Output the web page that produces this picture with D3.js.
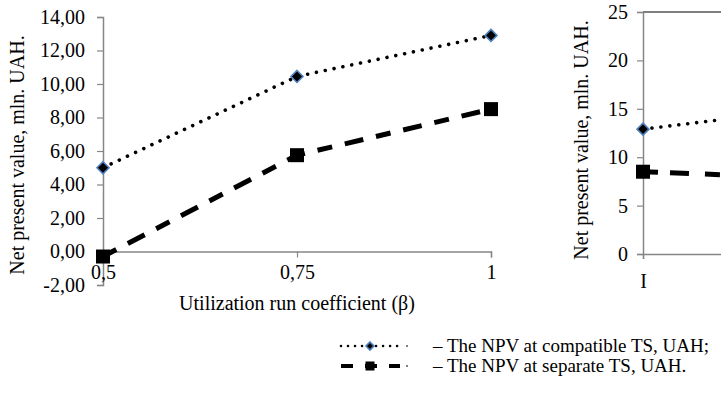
<!DOCTYPE html>
<html>
<head>
<meta charset="utf-8">
<script src="https://cdn.jsdelivr.net/npm/d3@7"></script>
<style>
  body { margin: 0; background: #fff; }
  svg { display: block; }
</style>
</head>
<body>
<div id="chart"></div>
<script>
// left chart data
const betaValues = [0.5, 0.75, 1];
const betaTicks = ["0,5", "0,75", "1"];
const npvCompatible = [5.0, 10.45, 12.9];
const npvSeparate = [-0.3, 5.75, 8.5];
const leftYTicks = [-2, 0, 2, 4, 6, 8, 10, 12, 14];

// right chart data (cut off at the right edge)
const variants = ["I", "II"];
const npvCompatibleVar = [12.9, 15.4];
const npvSeparateVar = [8.5, 7.7];
const rightYTicks = [0, 5, 10, 15, 20, 25];

const legendLabels = [
  "– The NPV at compatible TS, UAH;",
  "– The NPV at separate TS, UAH."
];

const W = 721, H = 394;
const FONT = "Liberation Serif";
const FS = 20;
const axisColor = "#868686";
const fmt = d => d.toFixed(2).replace(".", ",");

const svg = d3.select("#chart").append("svg")
  .attr("width", W).attr("height", H);

function drawDiamond(g, x, y, r) {
  g.append("path")
    .attr("d", `M${x},${y - r}L${x + r},${y}L${x},${y + r}L${x - r},${y}Z`)
    .attr("fill", "#000")
    .attr("stroke", "#4f81bd")
    .attr("stroke-width", 1.6);
}
function drawSquare(g, x, y, s) {
  g.append("rect")
    .attr("x", x - s / 2).attr("y", y - s / 2)
    .attr("width", s).attr("height", s)
    .attr("fill", "#000");
}
function styleAxis(ax) {
  ax.attr("font-family", FONT).attr("font-size", FS);
  ax.select(".domain").attr("stroke", axisColor).attr("stroke-width", 1.5);
  ax.selectAll(".tick line").attr("stroke", axisColor).attr("stroke-width", 1.2);
  ax.selectAll("text").attr("font-family", FONT).attr("font-size", FS).attr("fill", "#000");
}
function label(g, txt, x, y, rotate, anchor, size) {
  return g.append("text")
    .attr("transform", `translate(${x},${y})` + (rotate ? " rotate(-90)" : ""))
    .attr("text-anchor", anchor || "middle")
    .attr("font-family", FONT)
    .attr("font-size", size || FS)
    .attr("fill", "#000")
    .text(txt);
}

// ---------- left chart ----------
const xL = d3.scaleLinear().domain([0.5, 1]).range([103, 491]);
const yL = d3.scaleLinear().domain([-2, 14]).range([285, 17]);

const left = svg.append("g");

const yAxisL = left.append("g")
  .attr("transform", `translate(${xL(0.5)},0)`)
  .call(d3.axisLeft(yL).tickValues(leftYTicks).tickFormat(fmt).tickSizeOuter(0).tickSize(6).tickPadding(12));
styleAxis(yAxisL);

const xAxisL = left.append("g")
  .attr("transform", `translate(0,${yL(0)})`)
  .call(d3.axisBottom(xL).tickValues(betaValues).tickFormat((d, i) => betaTicks[i]).tickSizeOuter(0).tickSize(6).tickPadding(7));
styleAxis(xAxisL);
xAxisL.selectAll(".tick line").filter(d => d === 0.5).remove();

label(left, "Utilization run coefficient (β)", xL(0.75), 310);
label(left, "Net present value, mln. UAH.", 24, 155, true);

const lineL = d3.line().x(d => xL(d[0])).y(d => yL(d[1]));
left.append("path")
  .attr("d", lineL(betaValues.map((b, j) => [b, npvCompatible[j]])))
  .attr("fill", "none").attr("stroke", "#000")
  .attr("stroke-width", 3.6).attr("stroke-dasharray", "0.01 9").attr("stroke-linecap", "round");
left.append("path")
  .attr("d", lineL(betaValues.map((b, j) => [b, npvSeparate[j]])))
  .attr("fill", "none").attr("stroke", "#000")
  .attr("stroke-width", 5).attr("stroke-dasharray", "15 13 19 13").attr("stroke-linecap", "butt");
betaValues.forEach((b, j) => {
  drawDiamond(left, xL(b), yL(npvCompatible[j]), 6);
  drawSquare(left, xL(b), yL(npvSeparate[j]), 14);
});

// ---------- right chart ----------
const xR = d3.scalePoint().domain(variants).range([643, 843]);
const yR = d3.scaleLinear().domain([0, 25]).range([254, 12]);
const right = svg.append("g");

right.append("line")
  .attr("x1", xR("I")).attr("x2", W + 5)
  .attr("y1", yR(25)).attr("y2", yR(25))
  .attr("stroke", "#000").attr("stroke-width", 1.2);

const yAxisR = right.append("g")
  .attr("transform", `translate(${xR("I")},0)`)
  .call(d3.axisLeft(yR).tickValues(rightYTicks).tickSizeOuter(0).tickSize(6).tickPadding(9));
styleAxis(yAxisR);

// only the first category is inside the picture
const xAxisR = right.append("g")
  .attr("transform", `translate(0,${yR(0)})`)
  .call(d3.axisBottom(xR).tickValues(variants.slice(0, 1)).tickSizeOuter(0).tickSize(5).tickPadding(15));
styleAxis(xAxisR);

label(right, "Net present value, mln. UAH.", 588, 140, true);

const lineR = d3.line().x(d => xR(d[0])).y(d => yR(d[1]));
right.append("path")
  .attr("d", lineR(variants.map((v, j) => [v, npvCompatibleVar[j]])))
  .attr("fill", "none").attr("stroke", "#000")
  .attr("stroke-width", 3.6).attr("stroke-dasharray", "0.01 9").attr("stroke-linecap", "round");
right.append("path")
  .attr("d", lineR(variants.map((v, j) => [v, npvSeparateVar[j]])))
  .attr("fill", "none").attr("stroke", "#000")
  .attr("stroke-width", 5).attr("stroke-dasharray", "15 12 19 16").attr("stroke-linecap", "butt");
variants.forEach((v, j) => {
  drawDiamond(right, xR(v), yR(npvCompatibleVar[j]), 6);
  drawSquare(right, xR(v), yR(npvSeparateVar[j]), 14);
});

// ---------- legend ----------
const legend = svg.append("g");
const legY = [346, 366];
legendLabels.forEach((lab, i) => {
  const y = legY[i];
  legend.append("line")
    .attr("x1", 341).attr("x2", 400).attr("y1", y).attr("y2", y)
    .attr("stroke", "#000")
    .attr("stroke-width", i === 0 ? 2.6 : 4)
    .attr("stroke-dasharray", i === 0 ? "0.01 7" : "12 12")
    .attr("stroke-linecap", i === 0 ? "round" : "butt");
  legend.append("line")
    .attr("x1", 406).attr("x2", 408).attr("y1", y).attr("y2", y)
    .attr("stroke", "#000").attr("stroke-width", 1);
  if (i === 0) drawDiamond(legend, 370, y, 4);
  else drawSquare(legend, 370, y, 9);
  label(legend, lab, 433, y + 6, false, "start", 19);
});
</script>
</body>
</html>
